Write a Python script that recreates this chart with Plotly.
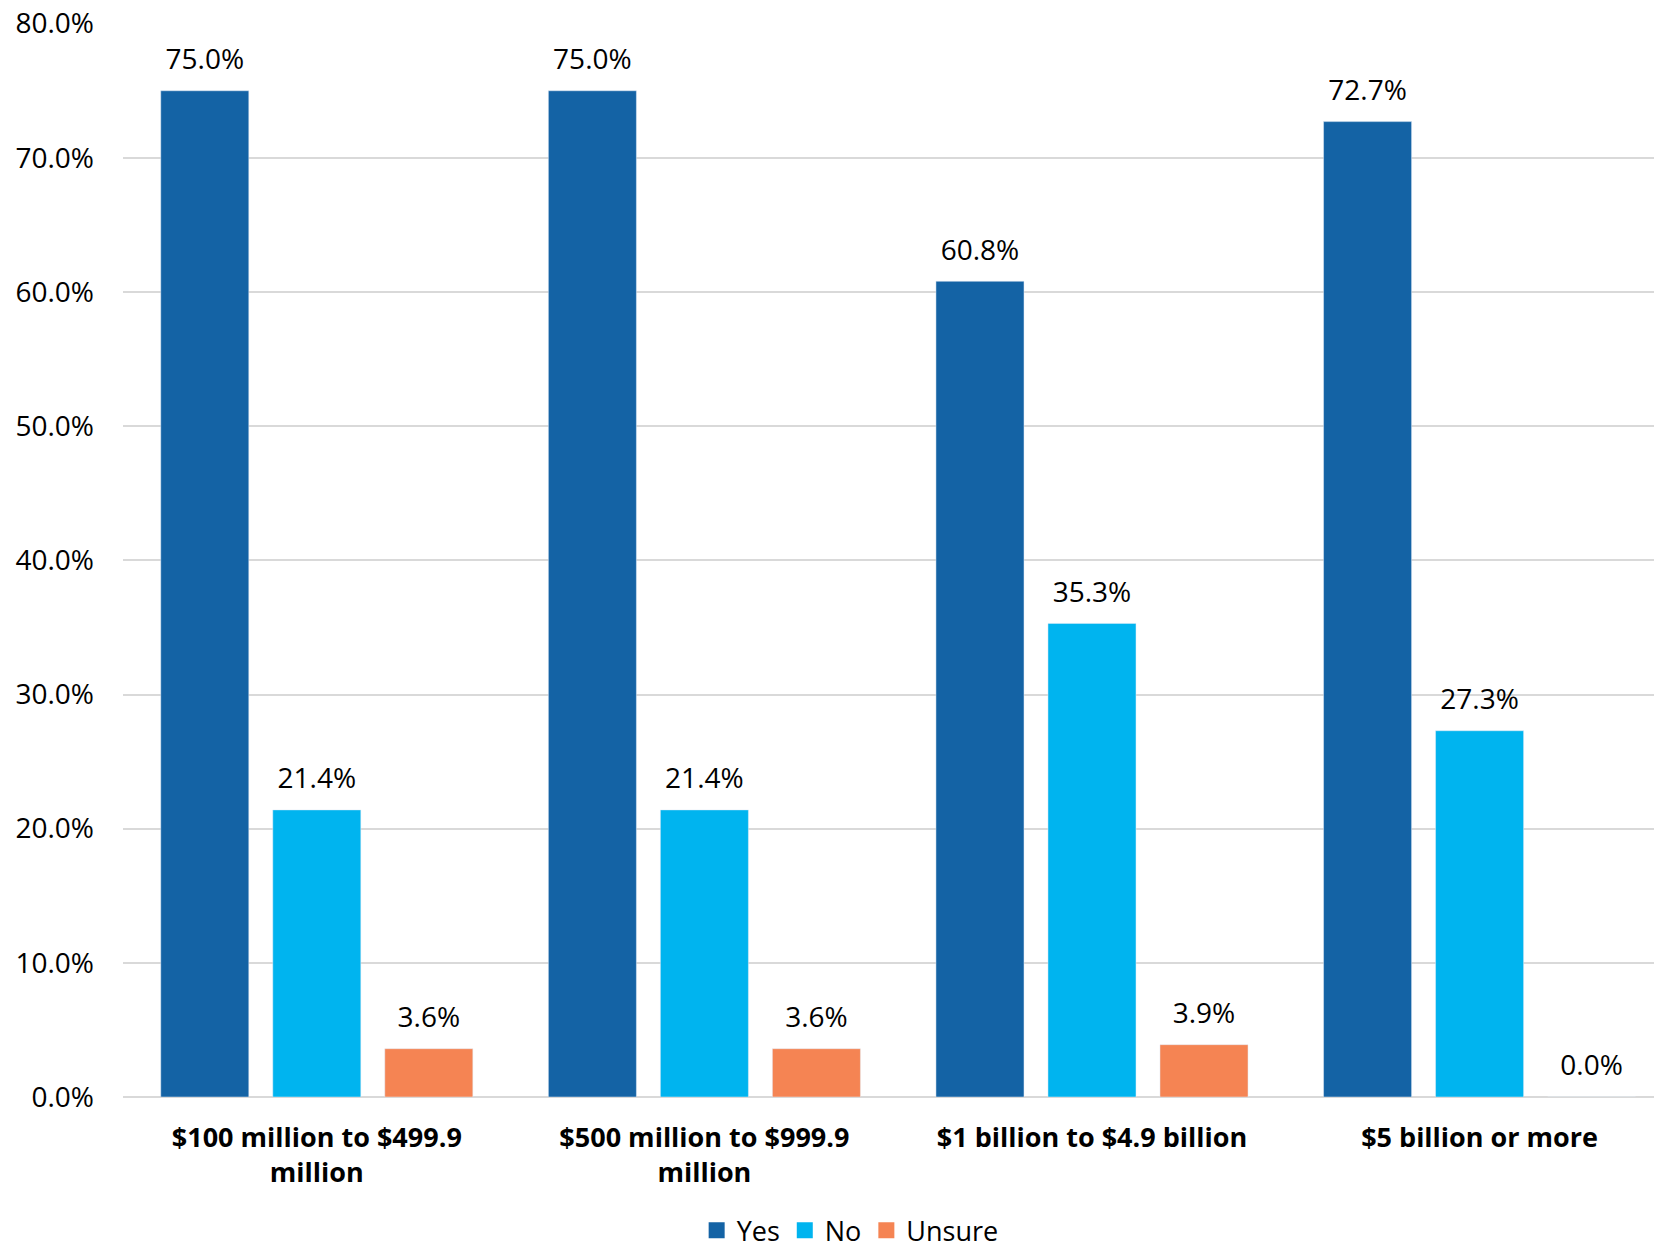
import plotly.graph_objects as go

categories = ["$100 million to $499.9<br>million", "$500 million to $999.9<br>million",
              "$1 billion to $4.9 billion", "$5 billion or more"]
yes = [75.0, 75.0, 60.8, 72.7]
no = [21.4, 21.4, 35.3, 27.3]
unsure = [3.6, 3.6, 3.9, 0.0]
y_ticks = [0, 10, 20, 30, 40, 50, 60, 70, 80]

FONT = "Open Sans"
series = [("Yes", yes, "#1463a5"), ("No", no, "#00b4ef"), ("Unsure", unsure, "#f58453")]

fig = go.Figure()
for name, vals, color in series:
    fig.add_trace(go.Bar(
        name=name, x=categories, y=vals, marker_color=color,
        offsetgroup=name, showlegend=False, hoverinfo="skip",
    ))
for name, vals, color in series:
    fig.add_trace(go.Scatter(
        name=name, x=categories, y=vals, mode="markers+text",
        offsetgroup=name,
        text=[f"{v:.1f}%" for v in vals], textposition="top center",
        textfont=dict(family=FONT, size=28, color="black"),
        marker=dict(symbol="square", size=22, color=color, opacity=0),
        cliponaxis=False, showlegend=False,
    ))
for name, vals, color in series:
    fig.add_trace(go.Scatter(
        name=name, x=[None], y=[None], mode="markers",
        marker=dict(symbol="square", size=18, color=color),
    ))

fig.update_layout(
    width=1654, height=1252,
    margin=dict(l=123, r=0, t=23, b=155, autoexpand=False),
    paper_bgcolor="white", plot_bgcolor="white",
    barmode="group", bargap=0.133, bargroupgap=0.214,
    scattermode="group", scattergap=0.133,
    font=dict(family=FONT, size=28, color="black"),
    showlegend=True,
    legend=dict(orientation="h", xref="container", yref="container",
                x=0.514, xanchor="center", y=0.017, yanchor="middle",
                font=dict(family=FONT, size=27), traceorder="normal",
                itemwidth=30, tracegroupgap=0),
)
fig.update_xaxes(range=[-0.5, 3.45], showgrid=False, ticks="",
                 tickfont=dict(family=FONT, size=27, weight="bold"), showline=False,
                 ticklabelstandoff=22)
fig.update_yaxes(range=[0, 80.05], tickvals=y_ticks, ticktext=[f"{t:.1f}%" for t in y_ticks],
                 showgrid=True, gridcolor="#d9d9d9", gridwidth=2,
                 zeroline=True, zerolinecolor="#d9d9d9", zerolinewidth=2,
                 ticklabelstandoff=28, tickfont=dict(family=FONT, size=28))

fig.write_html("out.html", config={"displayModeBar": False},
               post_script="document.body.style.margin='0';")
